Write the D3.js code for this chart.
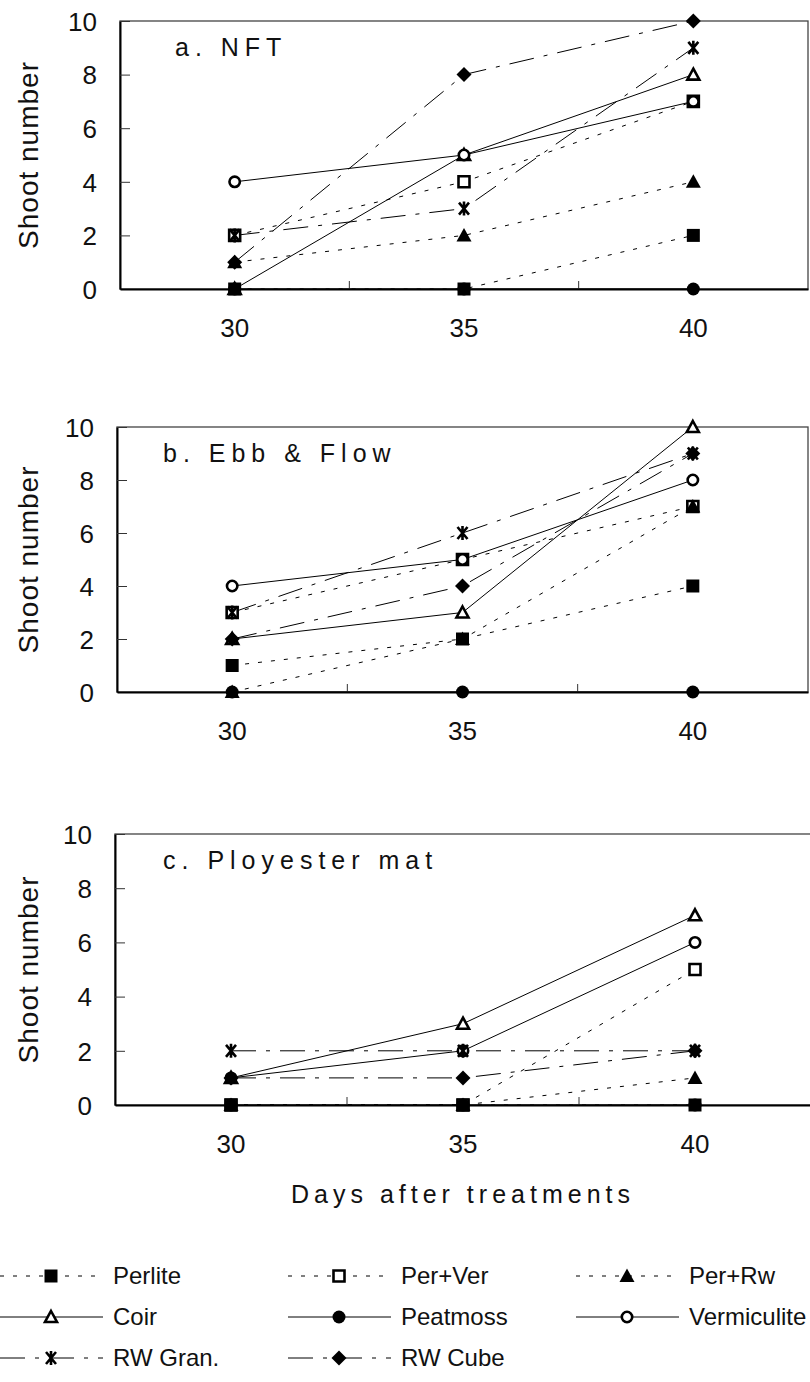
<!DOCTYPE html>
<html>
<head>
<meta charset="utf-8">
<script src="https://cdn.jsdelivr.net/npm/d3@7"></script>
<style>
  body { margin: 0; background: #fff; }
  svg { display: block; font-family: "Liberation Sans", Arial, sans-serif; }
  .axis text { font-family: "Liberation Sans", Arial, sans-serif; fill: #111; }
</style>
</head>
<body>
<svg id="chart" width="810" height="1382"></svg>
<script>
// data
const days = ['30', '35', '40']
const seriesNames = ['Perlite', 'Per+Ver', 'Per+Rw', 'Coir', 'Peatmoss', 'Vermiculite', 'RW Gran.', 'RW Cube']
const panelTitles = ['a. NFT', 'b. Ebb & Flow', 'c. Ployester mat']
const yTicks = [0, 2, 4, 6, 8, 10]
// one row per series, one value per day
const nftValues = [[0, 0, 2], [2, 4, 7], [1, 2, 4], [0, 5, 8], [0, 0, 0], [4, 5, 7], [2, 3, 9], [1, 8, 10]]
const ebbValues = [[1, 2, 4], [3, 5, 7], [0, 2, 7], [2, 3, 10], [0, 0, 0], [4, 5, 8], [3, 6, 9], [2, 4, 9]]
const matValues = [[0, 0, 0], [0, 0, 5], [0, 0, 1], [1, 3, 7], [0, 0, 0], [1, 2, 6], [2, 2, 2], [1, 1, 2]]
const panelValues = [nftValues, ebbValues, matValues]

// styles
const lineDash = { short: '4,9', solid: null, dashdot: '25,10,4,10' }
const seriesStyle = {
  'Perlite': { line: 'short', marker: 'square' },
  'Per+Ver': { line: 'short', marker: 'osquare' },
  'Per+Rw': { line: 'short', marker: 'triangle' },
  'Coir': { line: 'solid', marker: 'otriangle' },
  'Peatmoss': { line: 'solid', marker: 'circle' },
  'Vermiculite': { line: 'solid', marker: 'ocircle' },
  'RW Gran.': { line: 'dashdot', marker: 'asterisk' },
  'RW Cube': { line: 'dashdot', marker: 'diamond' }
}

// layout of the three panels
const panels = [
  { left: 120, right: 808, top: 21, bottom: 289, titleX: 175 },
  { left: 117, right: 808, top: 427, bottom: 692, titleX: 163 },
  { left: 115, right: 811, top: 834, bottom: 1105, titleX: 163 }
]

const fontFam = '"Liberation Sans", Arial, sans-serif'
const svg = d3.select('#chart')
svg.append('rect').attr('width', 810).attr('height', 1382).attr('fill', '#fff')

function markerPath(shape) {
  switch (shape) {
    case 'square': return 'M-6.5,-6.5H6.5V6.5H-6.5Z'
    case 'osquare': return 'M-5.5,-5.5H5.5V5.5H-5.5Z'
    case 'triangle': return 'M0,-7.5L7.5,6H-7.5Z'
    case 'otriangle': return 'M0,-6L6,5H-6Z'
    case 'circle': return d3.arc()({ innerRadius: 0, outerRadius: 6.5, startAngle: 0, endAngle: 2 * Math.PI })
    case 'ocircle': return d3.arc()({ innerRadius: 0, outerRadius: 5.2, startAngle: 0, endAngle: 2 * Math.PI })
    case 'diamond': return 'M0,-7.5L7.5,0L0,7.5L-7.5,0Z'
    case 'asterisk': return 'M-5,-6L5,6M-5,6L5,-6M0,-7V7'
  }
}

function drawMarker(g, shape) {
  const open = shape[0] === 'o' || shape === 'asterisk'
  g.append('path')
    .attr('d', markerPath(shape))
    .attr('fill', shape === 'asterisk' ? 'none' : (open ? '#fff' : '#000'))
    .attr('stroke', open ? '#000' : 'none')
    .attr('stroke-width', 2.6)
}

panels.forEach((p, pi) => {
  const values = panelValues[pi]
  const x = d3.scaleBand().domain(days).range([p.left, p.right])
  const y = d3.scaleLinear().domain([0, 10]).range([p.bottom, p.top])
  const g = svg.append('g')

  // frame
  g.append('rect')
    .attr('x', p.left).attr('y', p.top)
    .attr('width', p.right - p.left).attr('height', p.bottom - p.top)
    .attr('fill', 'none').attr('stroke', '#444').attr('stroke-width', 1.3)

  // y axis, ticks pointing inward
  const yAxis = g.append('g').attr('class', 'axis')
    .attr('transform', `translate(${p.left},0)`)
    .call(d3.axisLeft(y).tickValues(yTicks).tickSize(-10).tickSizeOuter(0).tickPadding(23))
  yAxis.select('.domain').attr('stroke', '#000').attr('stroke-width', 2)
  yAxis.selectAll('.tick line').attr('stroke', '#333').attr('stroke-width', 1)
  yAxis.selectAll('.tick text').attr('font-size', 26).attr('dy', '0.36em')

  // x axis: labels centered on categories, ticks between them
  const xAxis = g.append('g').attr('class', 'axis')
    .attr('transform', `translate(0,${p.bottom})`)
    .call(d3.axisBottom(x).tickSize(0).tickSizeOuter(0).tickPadding(30))
  xAxis.select('.domain').attr('stroke', '#000').attr('stroke-width', 2)
  xAxis.selectAll('.tick text').attr('font-size', 26)
  g.selectAll('.xsep')
    .data(days.slice(0, -1))
    .enter().append('line')
    .attr('x1', d => x(d) + x.bandwidth()).attr('x2', d => x(d) + x.bandwidth())
    .attr('y1', p.bottom).attr('y2', p.bottom - 8)
    .attr('stroke', '#333').attr('stroke-width', 1)

  // y title
  g.append('text')
    .attr('transform', `translate(38,${(p.top + p.bottom) / 2}) rotate(-90)`)
    .attr('text-anchor', 'middle')
    .attr('font-size', 28)
    .attr('letter-spacing', 1)
    .attr('fill', '#111')
    .text('Shoot number')

  // panel title
  g.append('text')
    .attr('x', p.titleX).attr('y', p.top + 35)
    .attr('font-size', 25)
    .attr('letter-spacing', 6)
    .attr('fill', '#111')
    .text(panelTitles[pi])

  const cx = d => x(d) + x.bandwidth() / 2
  const line = d3.line().x(d => cx(d.day)).y(d => y(d.v))

  const series = seriesNames.map((name, si) => ({
    name,
    style: seriesStyle[name],
    pts: days.map((day, di) => ({ day, v: values[si][di] }))
  }))

  g.selectAll('.series-line')
    .data(series)
    .enter().append('path')
    .attr('class', 'series-line')
    .attr('d', d => line(d.pts))
    .attr('fill', 'none')
    .attr('stroke', '#000')
    .attr('stroke-width', 1)
    .attr('stroke-dasharray', d => lineDash[d.style.line])

  series.forEach(s => {
    s.pts.forEach(pt => {
      const mg = g.append('g').attr('transform', `translate(${cx(pt.day)},${y(pt.v)})`)
      drawMarker(mg, s.style.marker)
    })
  })
})

// x title
svg.append('text')
  .attr('x', 463).attr('y', 1203)
  .attr('text-anchor', 'middle')
  .attr('font-size', 25)
  .attr('letter-spacing', 5)
  .attr('fill', '#111')
  .text('Days after treatments')

// legend
const legendCols = [0, 288, 576]
const legendRows = [1276, 1317, 1358]
const legend = svg.append('g')
seriesNames.forEach((name, i) => {
  const lx = legendCols[i % 3]
  const ly = legendRows[Math.floor(i / 3)]
  const st = seriesStyle[name]
  const lg = legend.append('g').attr('transform', `translate(${lx},${ly})`)
  lg.append('line')
    .attr('x1', 0).attr('x2', 103).attr('y1', 0).attr('y2', 0)
    .attr('stroke', '#000').attr('stroke-width', 1)
    .attr('stroke-dasharray', lineDash[st.line])
  const mg = lg.append('g').attr('transform', 'translate(51,0)')
  drawMarker(mg, st.marker)
  lg.append('text')
    .attr('x', 113).attr('y', 8)
    .attr('font-size', 24)
    .attr('fill', '#111')
    .text(name)
})
</script>
</body>
</html>
